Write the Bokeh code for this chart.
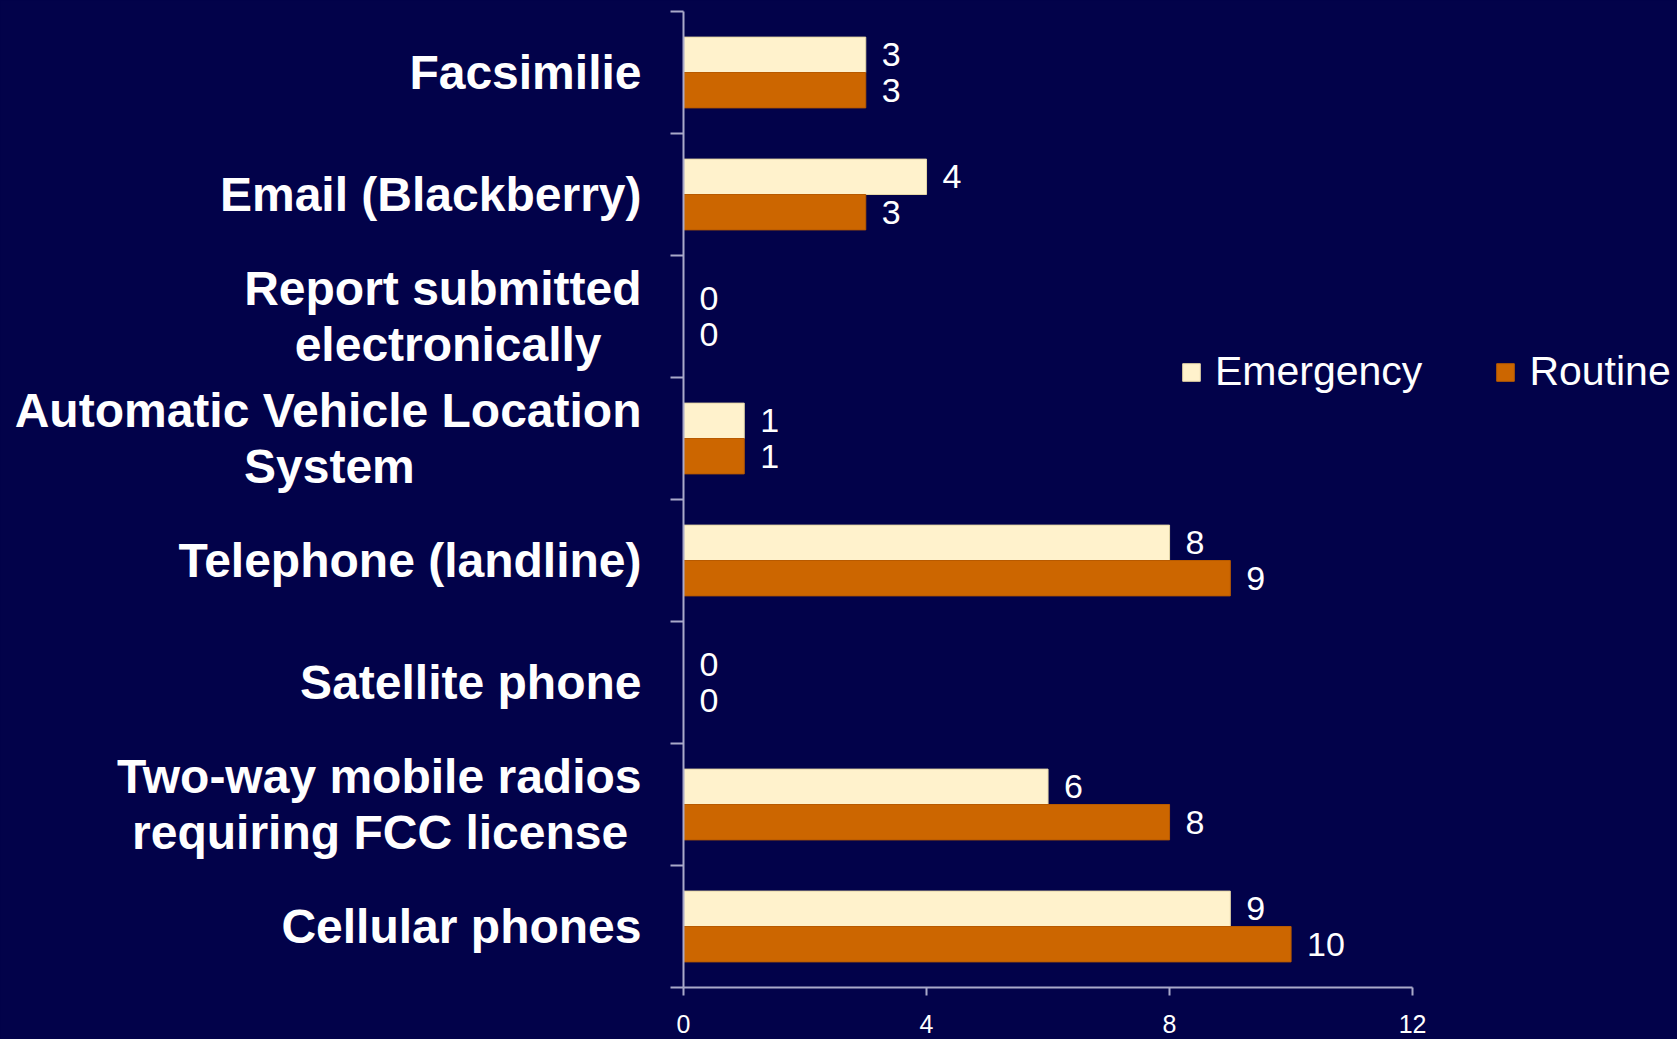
from bokeh.plotting import figure
from bokeh.models import Range1d, FixedTicker, Legend, LegendItem, ColumnDataSource
from bokeh.embed import file_html
from bokeh.resources import INLINE

# ---- data (top to bottom as in the chart) ----
NB = "\u00a0"
categories = [
    "Facsimilie",
    "Email (Blackberry)",
    "Report submitted\nelectronically" + NB * 3,
    "Automatic Vehicle Location\nSystem" + NB * 17,
    "Telephone (landline)",
    "Satellite phone",
    "Two-way mobile radios\nrequiring FCC license" + NB,
    "Cellular phones",
]
emergency = [3, 4, 0, 1, 8, 0, 6, 9]
routine = [3, 3, 0, 1, 9, 0, 8, 10]
x_ticks = [0, 4, 8, 12]
x_axis_max = 12

BG = "#02024A"
C_EMER = "#FFF2CC"
C_ROUT = "#CC6600"
AXIS_C = "#A9A9C9"
FONT = "Liberation Sans"

n = len(categories)
centres = [n - 0.5 - i for i in range(n)]
off = 0.145
h = 0.29

src_e = ColumnDataSource(dict(y=[c + off for c in centres], v=emergency, t=[str(v) for v in emergency]))
src_r = ColumnDataSource(dict(y=[c - off for c in centres], v=routine, t=[str(v) for v in routine]))

W, H = 1677, 1039
p = figure(width=W, height=H, output_backend="svg", toolbar_location=None,
           x_range=Range1d(0, 16.36), y_range=Range1d(0, n),
           min_border_left=683, min_border_right=0, min_border_top=11, min_border_bottom=52,
           background_fill_color=BG, border_fill_color=BG, outline_line_color=None,
           margin=(0, 0, 0, 0))
p.styles = {"background-color": BG}
p.xgrid.visible = False
p.ygrid.visible = False

r_e = p.hbar(y="y", right="v", left=0, height=h, source=src_e, fill_color=C_EMER, line_color="#E6D8A8", line_width=1)
r_r = p.hbar(y="y", right="v", left=0, height=h, source=src_r, fill_color=C_ROUT, line_color="#B85A00", line_width=1)

for src in (src_e, src_r):
    p.text(x="v", y="y", text="t", source=src, x_offset=16, text_baseline="middle",
           text_align="left", text_color="white", text_font_size="34px")

# y axis: labels at centres, boundary ticks as minor ticks
yax = p.yaxis[0]
yax.ticker = FixedTicker(ticks=centres, minor_ticks=list(range(n + 1)))
yax.major_label_overrides = {c: lab for c, lab in zip(centres, categories)}
yax.major_tick_out = 0
yax.major_tick_in = 0
yax.minor_tick_out = 13
yax.minor_tick_in = 0
yax.minor_tick_line_color = AXIS_C
yax.minor_tick_line_width = 2
yax.axis_line_color = AXIS_C
yax.axis_line_width = 2
yax.major_label_standoff = 29
yax.major_label_text_font = FONT
yax.major_label_text_font_style = "bold"
yax.major_label_text_font_size = "48px"
yax.major_label_text_color = "white"
yax.major_label_text_line_height = 1.05

xax = p.xaxis[0]
xax.ticker = FixedTicker(ticks=x_ticks, minor_ticks=[])
xax.bounds = (0, x_axis_max)
xax.major_tick_out = 8
xax.major_tick_in = 0
xax.major_tick_line_color = AXIS_C
xax.major_tick_line_width = 2
xax.axis_line_color = AXIS_C
xax.axis_line_width = 2
xax.major_label_standoff = 19
xax.major_label_text_font = FONT
xax.major_label_text_font_size = "25px"
xax.major_label_text_color = "white"

legend = Legend(items=[LegendItem(label="Emergency", renderers=[r_e]),
                       LegendItem(label="Routine", renderers=[r_r])],
                orientation="horizontal", location=(497, 592),
                glyph_width=22, glyph_height=22, label_standoff=13, spacing=72,
                padding=0, margin=0,
                label_text_font=FONT, label_text_font_size="41px", label_text_color="white",
                background_fill_alpha=0, border_line_alpha=0)
p.add_layout(legend, "center")

open("out.html", "w").write(file_html(p, INLINE))
